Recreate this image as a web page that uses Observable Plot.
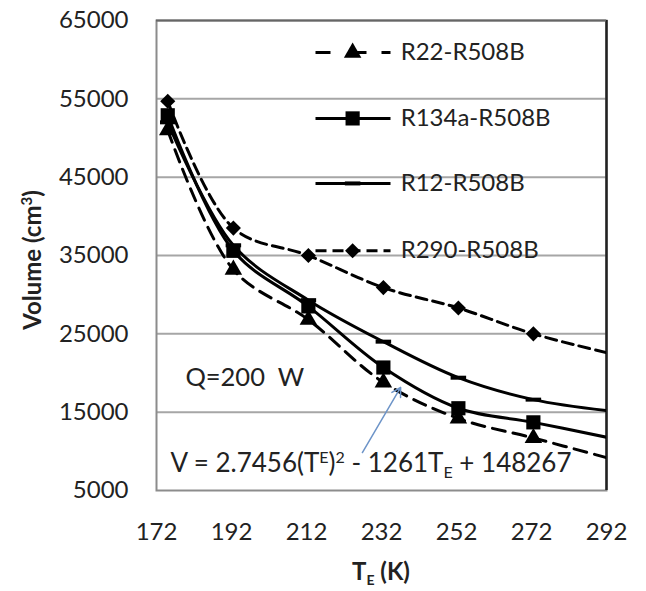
<!DOCTYPE html>
<html><head><meta charset="utf-8">
<script src="https://cdn.jsdelivr.net/npm/d3@7"></script>
<script src="https://cdn.jsdelivr.net/npm/@observablehq/plot@0.6"></script>
<style>
body{margin:0;background:#fff;}
#chart{width:646px;height:591px;}
</style>
</head><body><div id="chart"></div>
<script>
// ---- data ----
const temps = [175, 192.5, 212.5, 232.5, 252.5, 272.5, 292]; // last point = line end at right edge (no marker)
const seriesNames = ["R22-R508B", "R134a-R508B", "R12-R508B", "R290-R508B"];
const r22   = [51000, 33200, 26800, 18800, 14200, 11700, 9200];
const r134a = [52900, 35600, 28500, 20700, 15500, 13700, 11800];
const r12   = [52000, 36300, 29300, 24000, 19400, 16600, 15200];
const r290  = [54700, 38500, 35000, 30900, 28300, 25000, 22600];
const xTicks = [172, 192, 212, 232, 252, 272, 292];
const yTicks = [5000, 15000, 25000, 35000, 45000, 55000, 65000];
const noteText = "Q=200  W";
const eqText = "V = 2.7456(TE)2 - 1261TE + 148267";

// ---- styles / layout ----
const values = [r22, r134a, r12, r290];
const dashSymbol = {draw(ctx, size){ const w = Math.sqrt(size) * 1.25, h = 4; ctx.rect(-w/2, -h/2, w, h); }};
const styles = [
  {dash: "13,8", symbol: "triangle", r: 6.5},
  {dash: null, symbol: "square", r: 8},
  {dash: null, symbol: dashSymbol, r: 7},
  {dash: "11,6", symbol: "diamond2", r: 6.8}
];
const legendY = [60900, 52500, 44200, 35600];
const legendX = {x1: 214.4, x2: 234.4, m: 224.3, t: 237.1};

const rows = seriesNames.map((s, i) => temps.map((T, j) => ({T, V: values[i][j], s, j})));

const marks = [
  Plot.ruleY(yTicks.slice(1, -1), {stroke: "#a6a6a6", strokeWidth: 2}),
  Plot.frame({stroke: "#8c8c8c", strokeWidth: 2}),
  Plot.ruleX([xTicks[xTicks.length - 1]], {stroke: "#222", strokeWidth: 2.5}),
  Plot.ruleY([yTicks[yTicks.length - 1]], {stroke: "#666", strokeWidth: 2})
];

rows.forEach((data, i) => {
  const st = styles[i];
  marks.push(Plot.line(data, {x: "T", y: "V", stroke: "#000", strokeWidth: 3, curve: "catmull-rom",
    strokeDasharray: st.dash, clip: true}));
});
rows.forEach((data, i) => {
  const st = styles[i];
  marks.push(Plot.dot(data.filter(d => d.j < temps.length - 1), {x: "T", y: "V", symbol: st.symbol, r: st.r,
    fill: "#000", stroke: "none"}));
});
// legend
seriesNames.forEach((s, i) => {
  const st = styles[i];
  const row = [{s, y: legendY[i]}];
  marks.push(Plot.link(row, {x1: legendX.x1, x2: legendX.x2, y1: "y", y2: "y", stroke: "#000", strokeWidth: 3,
    strokeDasharray: i === 0 ? "15,21,15" : st.dash}));
  marks.push(Plot.dot(row, {x: legendX.m, y: "y", symbol: st.symbol, r: st.r, fill: "#000", stroke: "none"}));
  marks.push(Plot.text(row, {x: legendX.t, y: "y", text: "s", textAnchor: "start", fill: "#222", fontSize: 24}));
});
// annotations
marks.push(Plot.text([noteText], {x: 179.7, y: 19400, text: d => d, textAnchor: "start", fill: "#222", fontSize: 25.5}));
marks.push(Plot.text([eqText], {x: 175.7, y: 8450, text: d => d, textAnchor: "start", fill: "#222", fontSize: 26}));
marks.push(Plot.arrow([{a: 0}], {x1: 226.9, y1: 9850, x2: 237.1, y2: 18150, stroke: "#6d94c8", strokeWidth: 1.5, headLength: 10, bend: false}));

const plot = Plot.plot({
  width: 646, height: 591,
  marginLeft: 156, marginRight: 40, marginTop: 20, marginBottom: 101,
  x: {domain: [172, 292], ticks: xTicks, tickSize: 0, tickPadding: 32, label: null},
  y: {domain: [5000, 65000], ticks: yTicks, tickSize: 0, tickPadding: 28, label: null, tickFormat: d => String(d)},
  style: {fontFamily: "Lato, 'Open Sans', sans-serif", fontSize: "24px", color: "#222", background: "#fff", overflow: "visible"},
  marks
});

const svg = d3.select(plot.tagName === "svg" ? plot : plot.querySelector("svg"));
// equation with super/subscripts
svg.selectAll("text").filter(function(){ return this.textContent === eqText; }).each(function(){
  const t = d3.select(this); t.text(null);
  const parts = ["V = 2.7456(T", "E", ")", "2", " - 1261T", "E", " + 148267"];
  let cur = 0;
  parts.forEach((txt, k) => {
    const sp = t.append("tspan").text(txt);
    let target = 0, small = false;
    if (k === 1 || k === 3) { target = -9; small = true; }
    else if (k === 5) { target = 6; small = true; }
    sp.attr("dy", target - cur); cur = target;
    if (small) sp.attr("font-size", 16);
  });
});
// axis titles
const g = svg.append("g").attr("font-family", "Lato, 'Open Sans', sans-serif").attr("font-weight", "bold").attr("fill", "#222");
const xt = g.append("text").attr("x", 381).attr("y", 580).attr("text-anchor", "middle").attr("font-size", 24);
xt.append("tspan").text("T");
xt.append("tspan").text("E").attr("font-size", 14).attr("dy", 5);
xt.append("tspan").text(" (K)").attr("dy", -5);
const yt = g.append("text").attr("transform", "translate(41,260) rotate(-90)").attr("text-anchor", "middle").attr("font-size", 24);
yt.append("tspan").text("Volume (cm");
yt.append("tspan").text("3").attr("font-size", 15).attr("dy", -9);
yt.append("tspan").text(")").attr("dy", 9);

document.getElementById("chart").appendChild(plot);
</script>
</body></html>
